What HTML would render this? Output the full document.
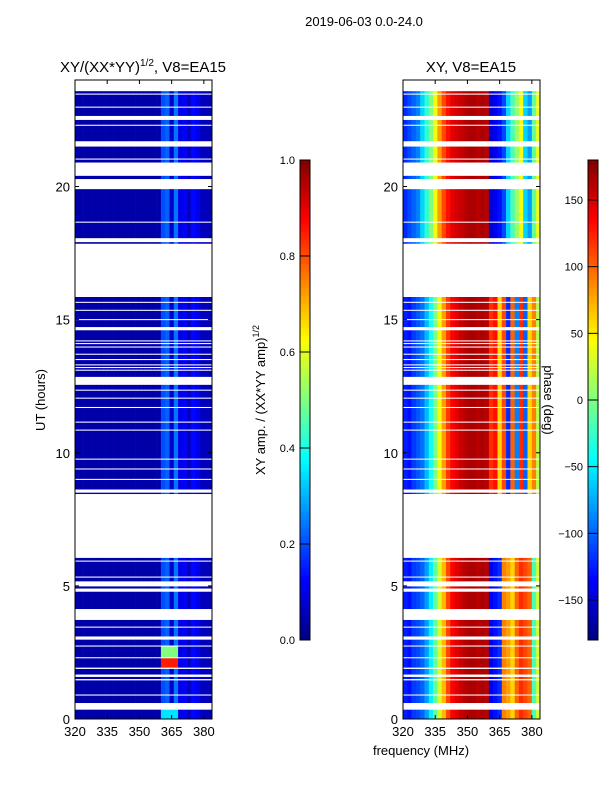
<!DOCTYPE html>
<html><head><meta charset="utf-8"><style>
body{margin:0;background:#fff;}
svg text{font-family:"Liberation Sans",sans-serif;fill:#000;}
</style></head><body>
<svg id="fig" width="600" height="800" xmlns="http://www.w3.org/2000/svg">
<rect width="600" height="800" fill="#fff"/>
<text x="364" y="26" font-size="13" text-anchor="middle">2019-06-03 0.0-24.0</text>
<text x="143" y="72" font-size="15" text-anchor="middle">XY/(XX*YY)<tspan dy="-6" font-size="10">1/2</tspan><tspan dy="6">, V8=EA15</tspan></text>
<text x="471" y="72" font-size="15" text-anchor="middle">XY, V8=EA15</text>
<text transform="translate(45,400) rotate(-90)" font-size="13" text-anchor="middle">UT (hours)</text>
<text x="421" y="755" font-size="13" text-anchor="middle">frequency (MHz)</text>
<text transform="translate(265,400) rotate(-90)" font-size="13" text-anchor="middle">XY amp. / (XX*YY amp)<tspan dy="-6" font-size="9">1/2</tspan></text>
<text transform="translate(544,400) rotate(90)" font-size="13" text-anchor="middle">phase (deg)</text>
<g id="left"></g>
<g id="right"></g>
<g id="axes"></g>
</svg>
<script>
// time blocks with data (hours)
const blocks=[[0,0.35],[0.6,0.88],[0.92,1.45],[1.5,1.58],[1.67,1.88],[1.93,2.28],[2.32,2.72],[2.76,2.98],[3.1,3.43],[3.47,3.72],[4.13,4.78],[4.9,4.98],[5.17,5.31],[5.35,5.91],[5.95,6.05],
[8.45,8.5],[8.62,8.98],[9.02,9.37],[9.41,9.74],[9.78,10.83],[10.87,11.13],[11.17,11.68],[11.72,12.03],[12.07,12.33],[12.37,12.55],[12.85,13.08],[13.12,13.18],[13.22,13.28],[13.32,13.48],[13.52,13.68],[13.72,13.95],[13.99,14.08],[14.12,14.18],[14.22,14.6],[14.72,14.98],[15.02,15.33],[15.37,15.63],[15.67,15.85],
[17.85,17.91],[18.06,18.64],[18.68,19.9],[20.28,20.4],[20.9,21.01],[21.05,21.5],[21.7,22.28],[22.32,22.5],[22.65,22.96],[23.0,23.45],[23.49,23.58]];
// frequency bins (MHz start), 2 MHz wide
const freqs=[320,322,324,326,328,330,332,334,336,338,340,342,344,346,348,350,352,354,356,358,360,362,364,366,368,370,372,374,376,378,380,382];
const ampCols=[0.04,0.04,0.04,0.04,0.04,0.04,0.04,0.04,0.04,0.04,0.04,0.04,0.04,0.04,0.04,0.04,0.04,0.04,0.04,0.04,0.2,0.22,0.07,0.24,0.1,0.12,0.07,0.13,0.11,0.06,0.06,0.05];
// hotspots: [t0,t1,f0,f1,value]
const hot=[[1.93,2.28,360,368,0.85],[2.32,2.72,360,368,0.5],[0,0.35,360,368,0.35]];
const phaseLow=[-125,-130,-115,-110,-100,-80,-50,-10,30,70,110,135,145,155,160,165,165,160,165,160,-140,-130,-120,90,80,60,100,120,110,100,-20,30];
const phaseMid=[-125,-130,-115,-105,-95,-70,-40,0,40,80,115,135,145,155,160,165,165,160,165,160,120,130,60,110,-120,100,-90,120,-100,60,90,20];
const phaseHigh=[-120,-110,-100,-90,-60,-30,0,40,80,110,130,145,150,155,160,165,165,160,165,160,-150,-140,-130,-110,-60,-20,10,40,-60,-80,-10,40];
const ampTicks=[0,0.2,0.4,0.6,0.8,1.0];
const phaseTicks=[-150,-100,-50,0,50,100,150];
const xTicks=[320,335,350,365,380];
const yTicks=[0,5,10,15,20];

const NS='http://www.w3.org/2000/svg';
const Y0=719,Y1=80,T0=0,T1=24;
const yS=t=>Y0-(t-T0)*(Y0-Y1)/(T1-T0);
const F0=320,F1=383.8,W=137;
const xS=(f,ox)=>ox+(f-F0)*W/(F1-F0);
function jet(v){v=Math.max(0,Math.min(1,v));const c=x=>Math.round(255*Math.max(0,Math.min(1,1.5-Math.abs(x))));
return `rgb(${c(4*v-3)},${c(4*v-2)},${c(4*v-1)})`;}
function mk(tag,a,p){const e=document.createElementNS(NS,tag);for(const k in a)e.setAttribute(k,a[k]);p.appendChild(e);return e;}
const L=document.getElementById('left'),R=document.getElementById('right'),A=document.getElementById('axes');
blocks.forEach(b=>{
  const y=yS(b[1]),h=yS(b[0])-y;
  const prof=b[0]<7?phaseLow:(b[0]<17?phaseMid:phaseHigh);
  freqs.forEach((f,i)=>{
    let v=ampCols[i];
    hot.forEach(q=>{if(b[0]>=q[0]&&b[1]<=q[1]&&f>=q[2]&&f<q[3])v=q[4];});
    const x=xS(f,75),w=Math.min(xS(f+2,75),212)-x;
    const r=mk('rect',{x:x,y:y,width:w+0.3,height:h,fill:jet(v)},L);
    
    
    const x2=xS(f,403);
    const r2=mk('rect',{x:x2,y:y,width:w+0.3,height:h,fill:jet((prof[i]+180)/360)},R);
    
    
  });
});
// axes frames and ticks
[[75,'left'],[403,'right']].forEach(([ox,nm])=>{
  const fr=mk('rect',{x:ox,y:Y1,width:W,height:Y0-Y1,fill:'none',stroke:'#000','stroke-width':1},A);
  
  
  xTicks.forEach(f=>{const x=xS(f,ox);
    mk('line',{x1:x,x2:x,y1:Y0,y2:Y0-4,stroke:'#000'},A);mk('line',{x1:x,x2:x,y1:Y1,y2:Y1+4,stroke:'#000'},A);
    const t=mk('text',{x:x,y:Y0+17,'font-size':13,'text-anchor':'middle'},A);t.textContent=f;
    
    });
  yTicks.forEach(v=>{const y=yS(v);
    mk('line',{x1:ox,x2:ox+4,y1:y,y2:y,stroke:'#000'},A);mk('line',{x1:ox+W,x2:ox+W-4,y1:y,y2:y,stroke:'#000'},A);
    const t=mk('text',{x:ox-5,y:y+5,'font-size':13,'text-anchor':'end'},A);t.textContent=v;
    
    });
});
// colorbars
function cbar(x,lo,hi,ticks,nm,fmt){
  const N=120;for(let i=0;i<N;i++){const r=mk('rect',{x:x,y:640-(i+1)*4,width:10,height:4.3,fill:jet((i+0.5)/N)},A);
    
    }
  const f=mk('rect',{x:x,y:160,width:10,height:480,fill:'none',stroke:'#000'},A);
  
  
  ticks.forEach(v=>{const y=640-(v-lo)/(hi-lo)*480;
    mk('line',{x1:x,x2:x+10,y1:y,y2:y,stroke:'#000'},A);
    const t=mk('text',{x:x-5,y:y+4,'font-size':11,'text-anchor':'end'},A);t.textContent=fmt(v);
    
    });
}
cbar(300,0,1,ampTicks,'amp-colorbar',v=>v.toFixed(1));
cbar(588,-180,180,phaseTicks,'phase-colorbar',v=>v<0?'\u2212'+(-v):String(v));
</script>
</body></html>
